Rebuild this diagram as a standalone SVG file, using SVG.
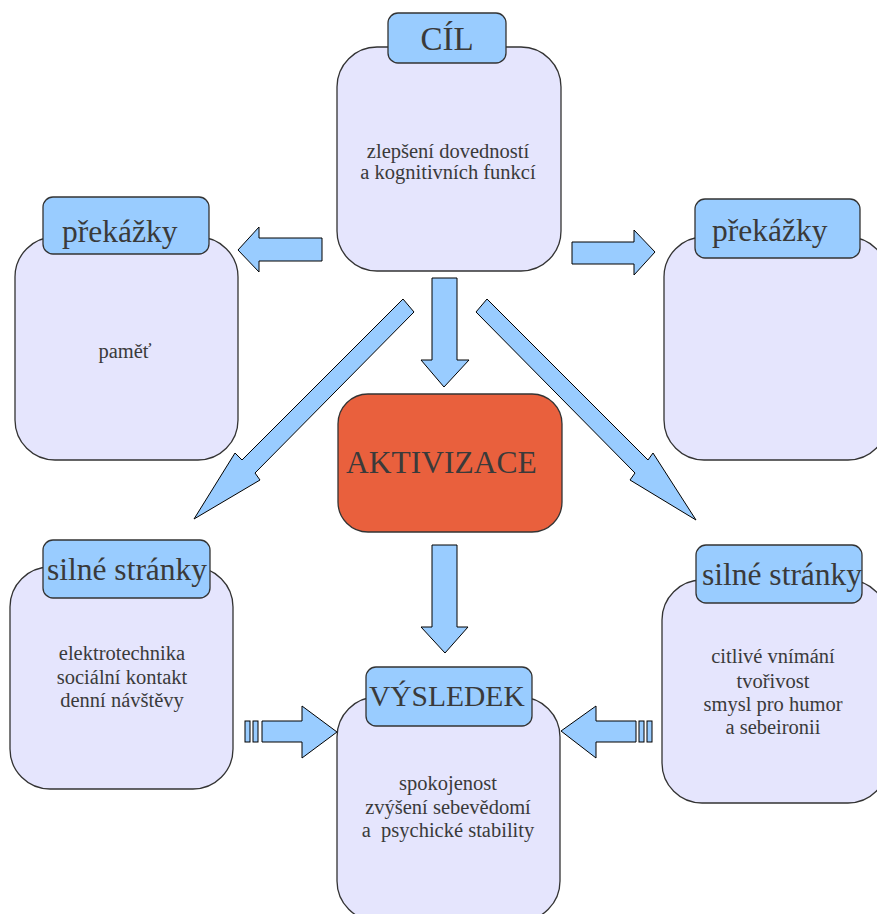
<svg xmlns="http://www.w3.org/2000/svg" width="877" height="914" viewBox="0 0 877 914">
<style>
.main{fill:#e5e5fd;stroke:#333;stroke-width:1.3}
.lbl{fill:#99ccff;stroke:#333;stroke-width:1.3}
.arr{fill:#99ccff;stroke:#000;stroke-width:1}
.h{font-family:"Liberation Serif",serif;font-size:31.5px;fill:#3a3a3a}
.b{font-family:"Liberation Serif",serif;font-size:20.5px;fill:#3a3a3a;text-anchor:middle}
</style>
<rect width="877" height="914" fill="#fff"/>
<g id="connectors">
<polygon class="arr" points="322,238 259,238 259,227 238,250 259,272 259,261 322,261"/>
<polygon class="arr" points="572,242 634,242 634,230 655,252 634,275 634,264 572,264"/>
<polygon class="arr" points="432,278 457,278 457,360 469,360 444,387 421,360 432,360"/>
<polygon class="arr" points="403,299 414,312 255,473 260,480 194,519 235,453 242,460"/>
<polygon class="arr" points="487,299 476,312 635,473 630,480 696,520 653,453 648,460"/>
<polygon class="arr" points="432,545 457,545 457,627 468,627 445,653 421,627 432,627"/>
<rect class="arr" x="245" y="721" width="5" height="21"/>
<rect class="arr" x="253" y="721" width="5" height="21"/>
<polygon class="arr" points="262,721 302,721 302,706 337,732 302,758 302,742 262,742"/>
<polygon class="arr" points="636,721 596,721 596,706 561,731 596,758 596,742 636,742"/>
<rect class="arr" x="639" y="721" width="5" height="21"/>
<rect class="arr" x="647" y="721" width="5" height="21"/>
</g>
<g id="cil">
<rect class="main" x="337" y="47" width="224" height="224" rx="40"/>
<rect class="lbl" x="388" y="13" width="118" height="50" rx="10"/>
<text class="h" x="447" y="50" text-anchor="middle" style="font-size:33px">CÍL</text>
<text class="b" x="448" y="158">zlepšení dovedností</text>
<text class="b" x="448" y="179">a kognitivních funkcí</text>
</g>
<g id="prekazky-left">
<rect class="main" x="15" y="237" width="223" height="223" rx="40"/>
<rect class="lbl" x="43" y="197" width="166" height="57" rx="10"/>
<text class="h" x="62" y="242">překážky</text>
<text class="b" x="125" y="358">paměť</text>
</g>
<g id="prekazky-right">
<rect class="main" x="664" y="237" width="224" height="223" rx="40"/>
<rect class="lbl" x="695" y="199" width="165" height="59" rx="10"/>
<text class="h" x="712" y="241">překážky</text>
</g>
<g id="aktivizace">
<rect x="338" y="394" width="224" height="138" rx="30" fill="#e9603d" stroke="#333" stroke-width="1.3"/>
<text class="h" x="346" y="473">AKTIVIZACE</text>
</g>
<g id="silne-left">
<rect class="main" x="10" y="567" width="223" height="222" rx="40"/>
<rect class="lbl" x="43" y="540" width="167" height="58" rx="10"/>
<text class="h" x="47" y="580">silné stránky</text>
<text class="b" x="122" y="660">elektrotechnika</text>
<text class="b" x="122" y="684">sociální kontakt</text>
<text class="b" x="122" y="707">denní návštěvy</text>
</g>
<g id="silne-right">
<rect class="main" x="662" y="580" width="226" height="223" rx="40"/>
<rect class="lbl" x="696" y="545" width="166" height="58" rx="10"/>
<text class="h" x="702" y="585">silné stránky</text>
<text class="b" x="773" y="663">citlivé vnímání</text>
<text class="b" x="773" y="688">tvořivost</text>
<text class="b" x="773" y="711">smysl pro humor</text>
<text class="b" x="773" y="734">a sebeironii</text>
</g>
<g id="vysledek">
<rect class="main" x="337" y="697" width="223" height="224" rx="40"/>
<rect class="lbl" x="366" y="667" width="166" height="59" rx="10"/>
<text class="h" x="369" y="706" style="font-size:29.5px">VÝSLEDEK</text>
<text class="b" x="448" y="790">spokojenost</text>
<text class="b" x="448" y="814">zvýšení sebevědomí</text>
<text class="b" x="448" y="837" xml:space="preserve">a  psychické stability</text>
</g>
</svg>
